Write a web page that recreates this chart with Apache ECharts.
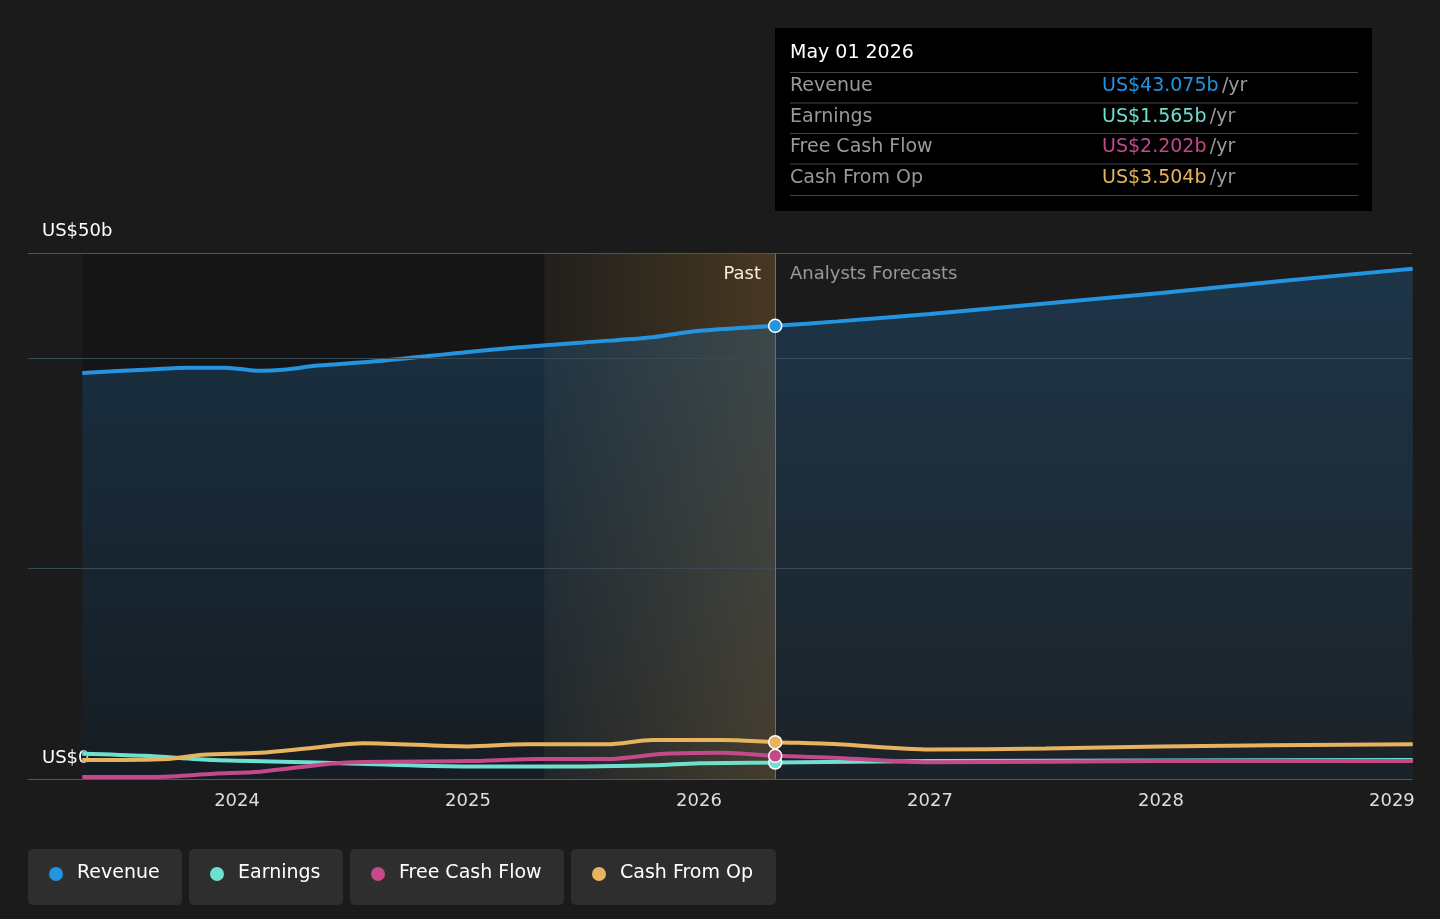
<!DOCTYPE html>
<html><head><meta charset="utf-8">
<script src="https://cdn.jsdelivr.net/npm/echarts@6/dist/echarts.min.js"></script>
<style>html,body{margin:0;background:#1b1b1b}#c{width:1440px;height:919px}</style>
</head><body><div id="c"></div>
<script>
const revenue=[[2023.33,38.6],[2023.6,38.9],[2023.8,39.1],[2023.95,39.1],[2024.1,38.8],[2024.2,38.9],[2024.35,39.3],[2024.6,39.7],[2025,40.6],[2025.2,41.0],[2025.5,41.5],[2025.8,42.0],[2026,42.6],[2026.33,43.075],[2026.6,43.5],[2027,44.2],[2027.5,45.2],[2028,46.2],[2028.5,47.3],[2029.09,48.5]];
const earnings=[[2023.33,2.4],[2023.6,2.2],[2023.9,1.8],[2024.3,1.6],[2024.6,1.4],[2025,1.2],[2025.5,1.2],[2025.8,1.3],[2026,1.5],[2026.33,1.565],[2027,1.7],[2028,1.75],[2029.09,1.8]];
const fcf=[[2023.33,0.2],[2023.65,0.2],[2023.9,0.5],[2024.1,0.7],[2024.5,1.6],[2025,1.7],[2025.3,1.9],[2025.6,1.9],[2025.85,2.4],[2026.1,2.5],[2026.33,2.202],[2026.6,2.0],[2027,1.6],[2028,1.7],[2029.09,1.7]];
const cfo=[[2023.33,1.8],[2023.7,1.9],[2023.85,2.3],[2024.1,2.5],[2024.3,2.9],[2024.55,3.4],[2025,3.1],[2025.25,3.3],[2025.6,3.3],[2025.8,3.7],[2026.1,3.7],[2026.33,3.504],[2026.6,3.3],[2027,2.8],[2027.5,2.9],[2028,3.1],[2029.09,3.3]];
const yearTicks=[2024,2025,2026,2027,2028,2029];
const names=['Revenue','Earnings','Free Cash Flow','Cash From Op'];
const colors=['#2394df','#6ee0cf','#c4498b','#e8b35e'];
const vals=['US$43.075b','US$1.565b','US$2.202b','US$3.504b'];
const font='DejaVu Sans';
const chart=echarts.init(document.getElementById('c'));
function line(name,data,color,extra){return Object.assign({type:'line',name,data,smooth:0.3,symbol:'none',lineStyle:{color,width:4},color,
 markPoint:{symbol:'circle',symbolSize:13,itemStyle:{color,borderColor:'#fff',borderWidth:1.5},label:{show:false},data:[{coord:data.find(d=>d[0]===2026.33)}]}},extra||{});}
const graphics=[];
graphics.push({type:'rect',shape:{x:775,y:28,width:597,height:183},style:{fill:'#000'}});
graphics.push({type:'text',x:790,y:44,style:{text:'May 01 2026',fill:'#fff',font:'19px '+font}});
names.forEach((n,i)=>{const y=86+i*30.5;
 graphics.push({type:'rect',shape:{x:790,y:y-14,width:568,height:1},style:{fill:'#444'}});
 graphics.push({type:'text',x:790,y:y-9,style:{text:n,fill:'#999',font:'19px '+font}});
 graphics.push({type:'text',x:1102,y:y-9,style:{rich:{a:{fill:colors[i],font:'19px '+font},b:{fill:'#999',font:'19px '+font}},text:'{a|'+vals[i]+'} {b|/yr}'}});
});
graphics.push({type:'rect',shape:{x:790,y:195,width:568,height:1},style:{fill:'#444'}});
graphics.push({type:'text',x:42,y:222,style:{text:'US$50b',fill:'#fff',font:'18px '+font}});
graphics.push({type:'text',x:42,y:749,style:{text:'US$0',fill:'#fff',font:'18px '+font}});
graphics.push({type:'text',x:761,y:265,style:{text:'Past',fill:'#fff',font:'18px '+font,align:'right'}});
graphics.push({type:'text',x:790,y:265,style:{text:'Analysts Forecasts',fill:'#999',font:'18px '+font}});
const lw=[154,154,214,205];let lx=28;
names.forEach((n,i)=>{
 graphics.push({type:'rect',shape:{x:lx,y:849,width:lw[i],height:56,r:5},style:{fill:'#2e2e2e'}});
 graphics.push({type:'circle',shape:{cx:lx+28,cy:874,r:7},style:{fill:colors[i]}});
 graphics.push({type:'text',x:lx+49,y:864,style:{text:n,fill:'#fff',font:'19px '+font}});
 lx+=lw[i]+7;
});
chart.setOption({
 backgroundColor:'#1b1b1b',animation:false,
 grid:{left:28,right:28,top:253,bottom:140},
 xAxis:{type:'value',min:2023.095,max:2029.087,splitLine:{show:false},axisLine:{lineStyle:{color:'#555'}},axisTick:{show:false},
  axisLabel:{customValues:yearTicks,color:'#ddd',fontSize:18,fontFamily:font,margin:13,formatter:v=>String(Math.round(v))}},
 yAxis:{type:'value',min:0,max:50,interval:10,axisLabel:{show:false},axisLine:{show:false},axisTick:{show:false},splitLine:{show:false}},
 series:[
  line('Revenue',revenue,colors[0],{z:3,
   areaStyle:{color:new echarts.graphic.LinearGradient(0,0,0,1,[{offset:0,color:'rgba(35,110,170,0.45)'},{offset:1,color:'rgba(35,110,170,0.12)'}])},
   markArea:{silent:true,data:[
    [{xAxis:2023.33,itemStyle:{color:'rgba(0,0,0,0.2)'}},{xAxis:2025.33}],
    [{xAxis:2025.33,itemStyle:{color:new echarts.graphic.LinearGradient(0,0,1,0,[{offset:0,color:'rgba(230,160,60,0.03)'},{offset:1,color:'rgba(230,160,60,0.22)'}])}},{xAxis:2026.33}]
   ]},
   markLine:{silent:true,symbol:'none',label:{show:false},data:[
    {yAxis:50,lineStyle:{color:'#555',type:'solid',width:1}},
    {yAxis:40,lineStyle:{color:'#3a4a55',type:'solid',width:1}},
    {yAxis:20,lineStyle:{color:'#3a4a55',type:'solid',width:1}},
    [{coord:[2026.33,50]},{coord:[2026.33,0]}],
    [{coord:[2026.33,50]},{coord:[2026.33,62.3]}]
   ],lineStyle:{color:'#8a6a40',type:'solid',width:1}}
  }),
  line('Earnings',earnings,colors[1]),
  line('Free Cash Flow',fcf,colors[2]),
  line('Cash From Op',cfo,colors[3])
 ],
 graphic:graphics
});
</script></body></html>
